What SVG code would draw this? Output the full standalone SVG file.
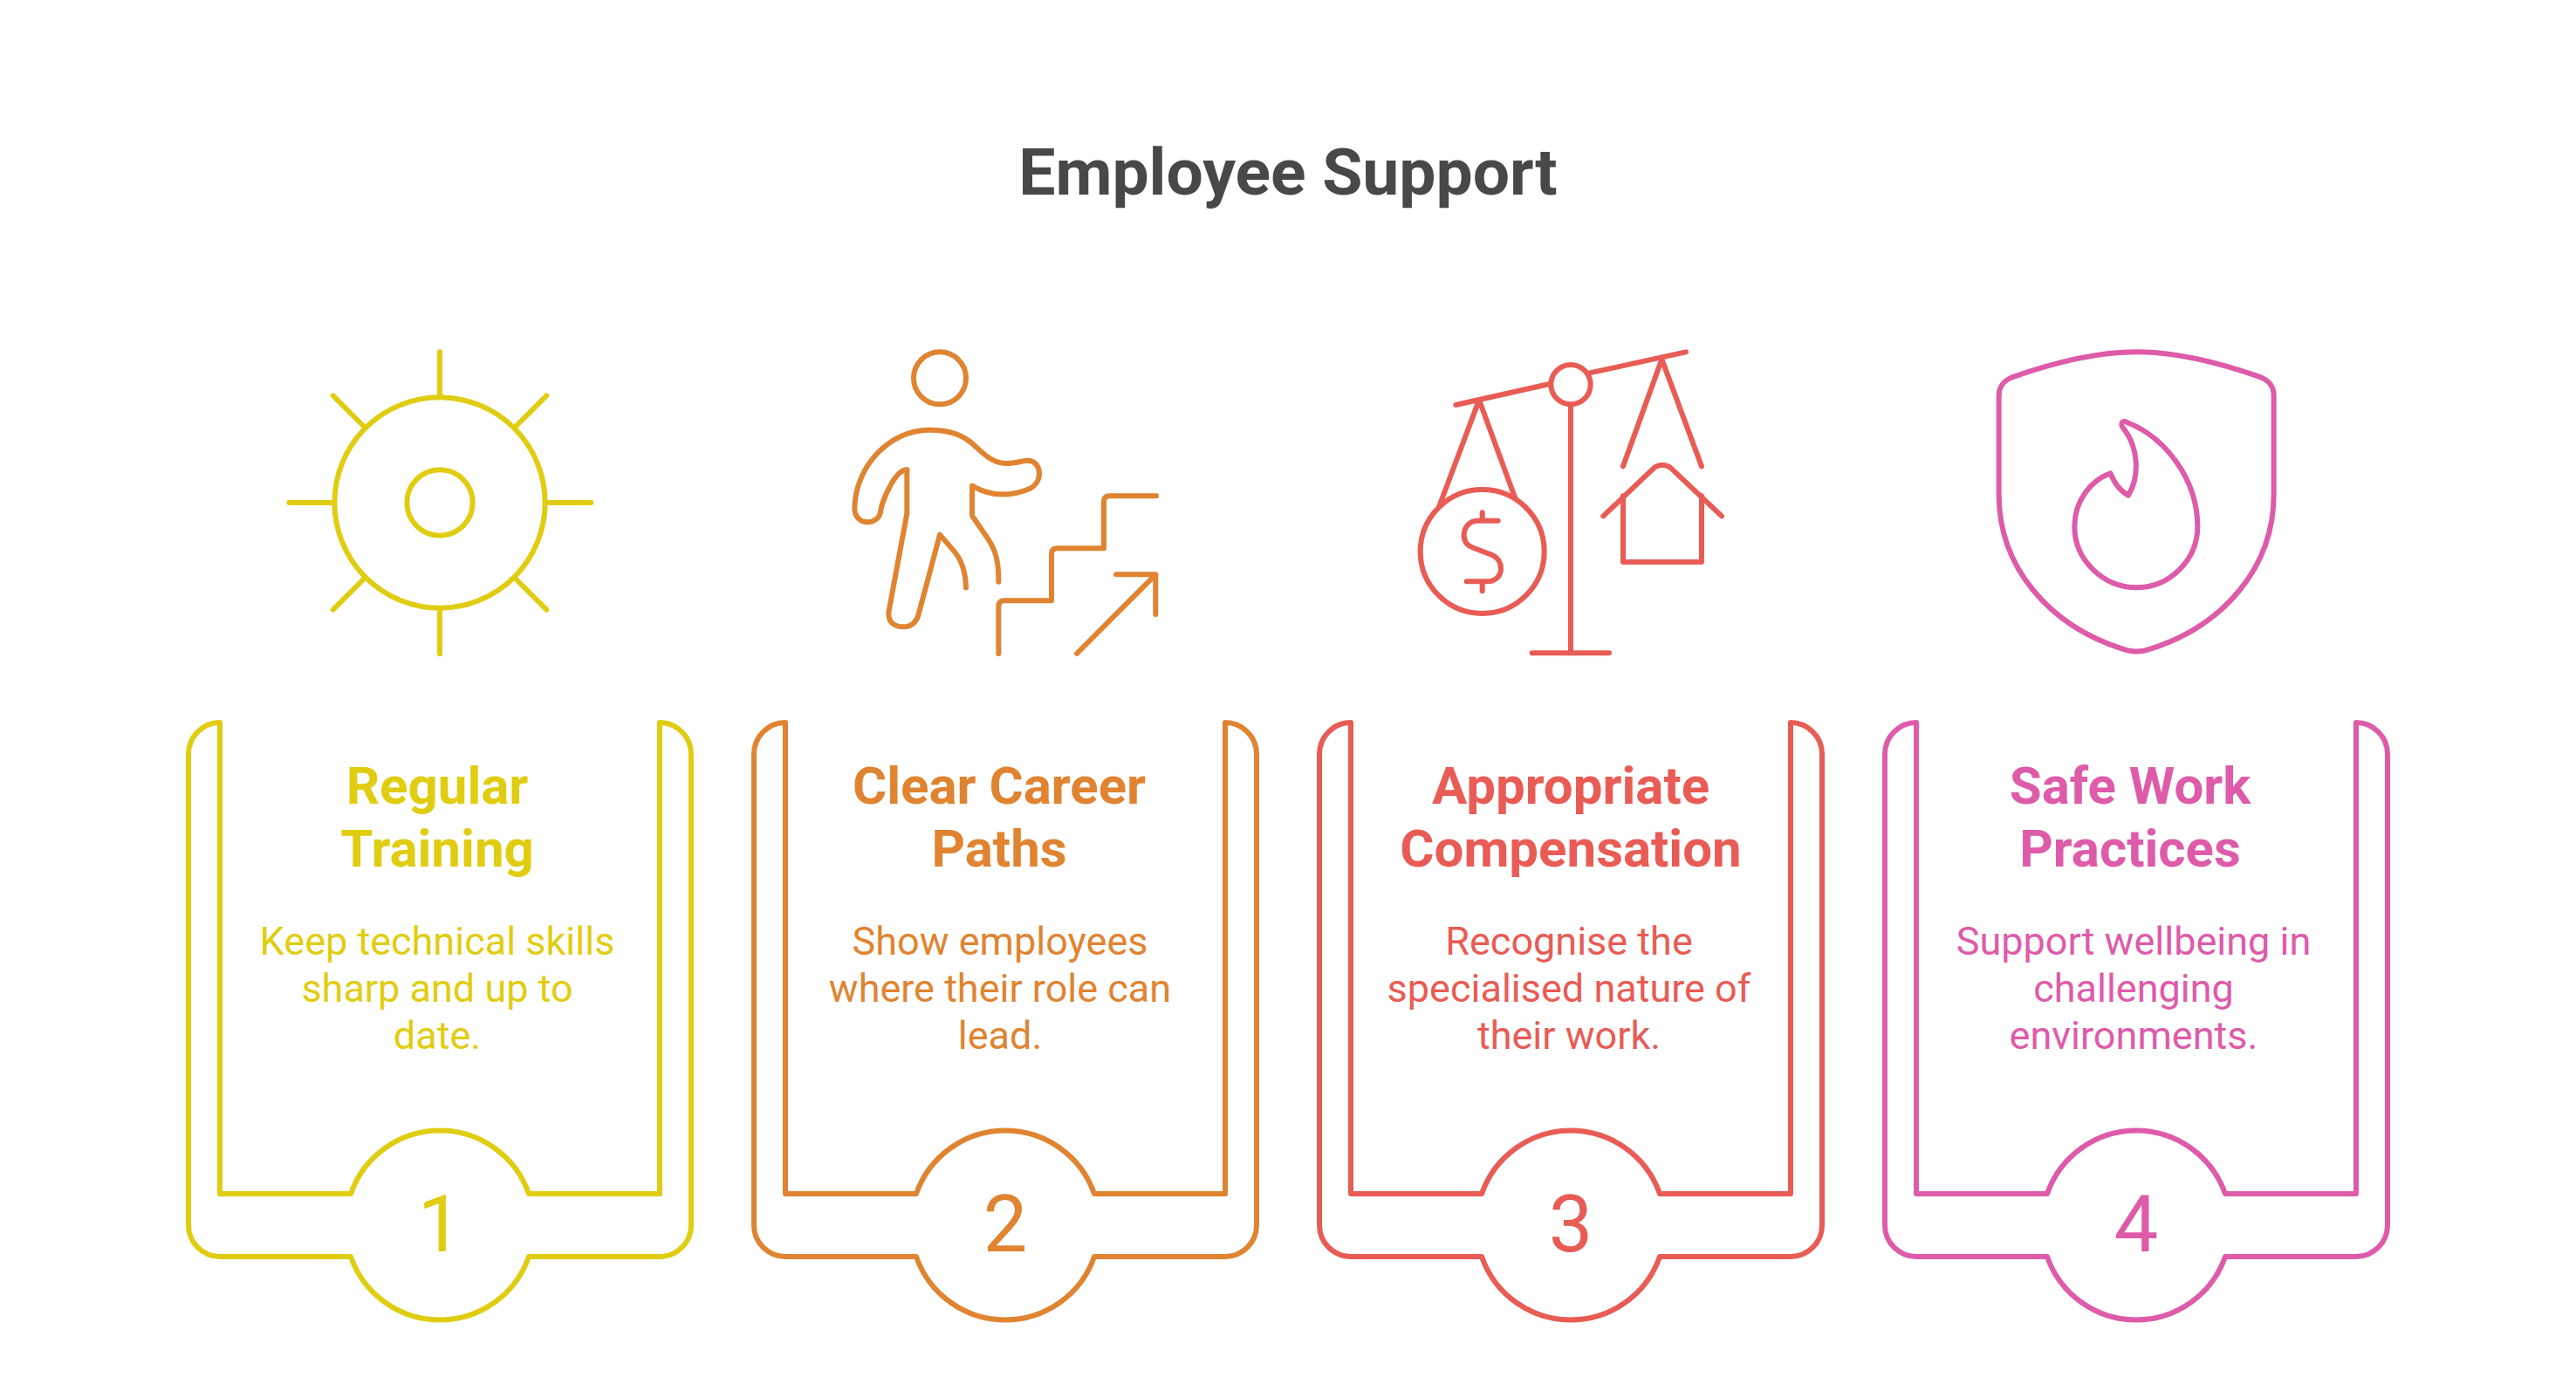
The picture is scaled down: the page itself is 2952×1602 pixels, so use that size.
<svg xmlns="http://www.w3.org/2000/svg" xmlns:xlink="http://www.w3.org/1999/xlink" width="2952" height="1602" viewBox="0 0 2952 1602">
<style>
text{font-family:Roboto,"Liberation Sans",sans-serif;text-anchor:middle}
.title{font-size:75px;font-weight:700;fill:#484848}
.h{font-size:60px;font-weight:700}
.b{font-size:45px;font-weight:400}
.n{font-size:90px;font-weight:400}
.ln{fill:none;stroke-width:6;stroke-linecap:round;stroke-linejoin:round}
.ic{fill:none;stroke-width:18;stroke-linecap:round;stroke-linejoin:round}
.y{stroke:#E0CD12}.yt{fill:#E0CD12}
.o{stroke:#E08431}.ot{fill:#E08431}
.r{stroke:#E85C55}.rt{fill:#E85C55}
.p{stroke:#DE5BA9}.pt{fill:#DE5BA9}
</style>
<defs>
<path id="frame" d="M252 828A36 36 0 0 0 216 864V1404A36 36 0 0 0 252 1440H402A108 108 0 0 0 606 1440H756A36 36 0 0 0 792 1404V864A36 36 0 0 0 756 828V1368H606A108 108 0 0 0 402 1368H252Z"/>
</defs>
<rect width="2952" height="1602" fill="#fff"/>
<text class="title" x="1476" y="223">Employee Support</text>
<g id="node-1">
<use href="#frame" class="ln y"/>
<g class="ic y" transform="translate(310 390) scale(.33333)">
<circle cx="582" cy="558" r="362"/><circle cx="582" cy="558" r="113"/>
<path d="M582 40V190M582 926V1078M64 558H216M950 558H1102M215 190L325 300M949 190L839 300M215 926L325 816M949 926L839 816"/>
</g>
<text class="h yt" x="501" y="921">Regular</text><text class="h yt" x="501" y="993">Training</text>
<text class="b yt" x="501" y="1094">Keep technical skills</text><text class="b yt" x="501" y="1148">sharp and up to</text><text class="b yt" x="501" y="1202">date.</text>
<text class="n yt" x="504" y="1434">1</text>
</g>
<g id="node-2">
<use href="#frame" class="ln o" x="648"/>
<g class="ic o" transform="translate(960 390) scale(.33333)">
<circle cx="351" cy="130" r="90"/>
<path d="M238 445V595L176 930C170 970 195 985 226 985C255 985 272 965 277 945L351 668L400 725C430 760 440 810 441 850"/>
<path d="M238 445C195 445 150 560 148 585C146 610 125 625 103 625C75 625 58 605 58 575C62 430 180 308 315 308C370 308 420 322 450 345C490 375 520 420 575 423C610 425 635 413 655 413C680 415 693 435 693 458C693 480 680 500 660 510C600 535 530 540 462 500V603L515 680C545 725 553 760 553 830"/>
<path d="M553 1077V915Q553 895 573 895H735V735Q735 715 755 715H915V555Q915 535 935 535H1095"/>
<path d="M822 1077L1093 805M957 805H1093V942"/>
</g>
<text class="h ot" x="1145" y="921">Clear Career</text><text class="h ot" x="1145" y="993">Paths</text>
<text class="b ot" x="1146" y="1094">Show employees</text><text class="b ot" x="1146" y="1148">where their role can</text><text class="b ot" x="1146" y="1202">lead.</text>
<text class="n ot" x="1152" y="1434">2</text>
</g>
<g id="node-3">
<use href="#frame" class="ln r" x="1296"/>
<g class="ic r" transform="translate(1610 390) scale(.33333)">
<path d="M175 222L497 150M632 113L966 40"/>
<circle cx="570" cy="152" r="68"/>
<path d="M570 222V1075M437 1075H702"/>
<path d="M118 570L255 205L378 540"/>
<circle cx="266" cy="726" r="213"/>
<path d="M320 620H250C220 620 203 645 203 670C203 695 215 705 235 713L300 738C320 747 330 765 330 785C330 810 310 829 285 829H212M266 592V620M266 829V862"/>
<path d="M750 433L883 65L1020 433"/>
<path d="M682 604L855 440C870 425 900 425 915 440L1089 604"/>
<path d="M750 535V762H1020V535"/>
</g>
<text class="h rt" x="1800" y="921">Appropriate</text><text class="h rt" x="1800" y="993">Compensation</text>
<text class="b rt" x="1798" y="1094">Recognise the</text><text class="b rt" x="1798" y="1148">specialised nature of</text><text class="b rt" x="1798" y="1202">their work.</text>
<text class="n rt" x="1800" y="1434">3</text>
</g>
<g id="node-4">
<use href="#frame" class="ln p" x="1944"/>
<g class="ic p" transform="translate(2255 390) scale(.33333)">
<path d="M580 40C720 40 860 75 1010 128C1035 138 1052 160 1052 190V530C1052 780 880 980 630 1060C600 1073 560 1073 530 1060C280 980 107 780 107 530V190C107 160 125 138 150 128C300 75 440 40 580 40Z"/>
<path d="M540 279C680 330 790 480 790 640C790 755 695 850 580 850C465 850 367 755 367 640C367 550 425 480 490 457C505 490 520 515 552 533C590 470 590 370 533 300C525 290 530 277 540 279Z"/>
</g>
<text class="h pt" x="2441" y="921">Safe Work</text><text class="h pt" x="2441" y="993">Practices</text>
<text class="b pt" x="2445" y="1094">Support wellbeing in</text><text class="b pt" x="2445" y="1148">challenging</text><text class="b pt" x="2445" y="1202">environments.</text>
<text class="n pt" x="2448" y="1434">4</text>
</g>
<g id="connectors"/>
</svg>
